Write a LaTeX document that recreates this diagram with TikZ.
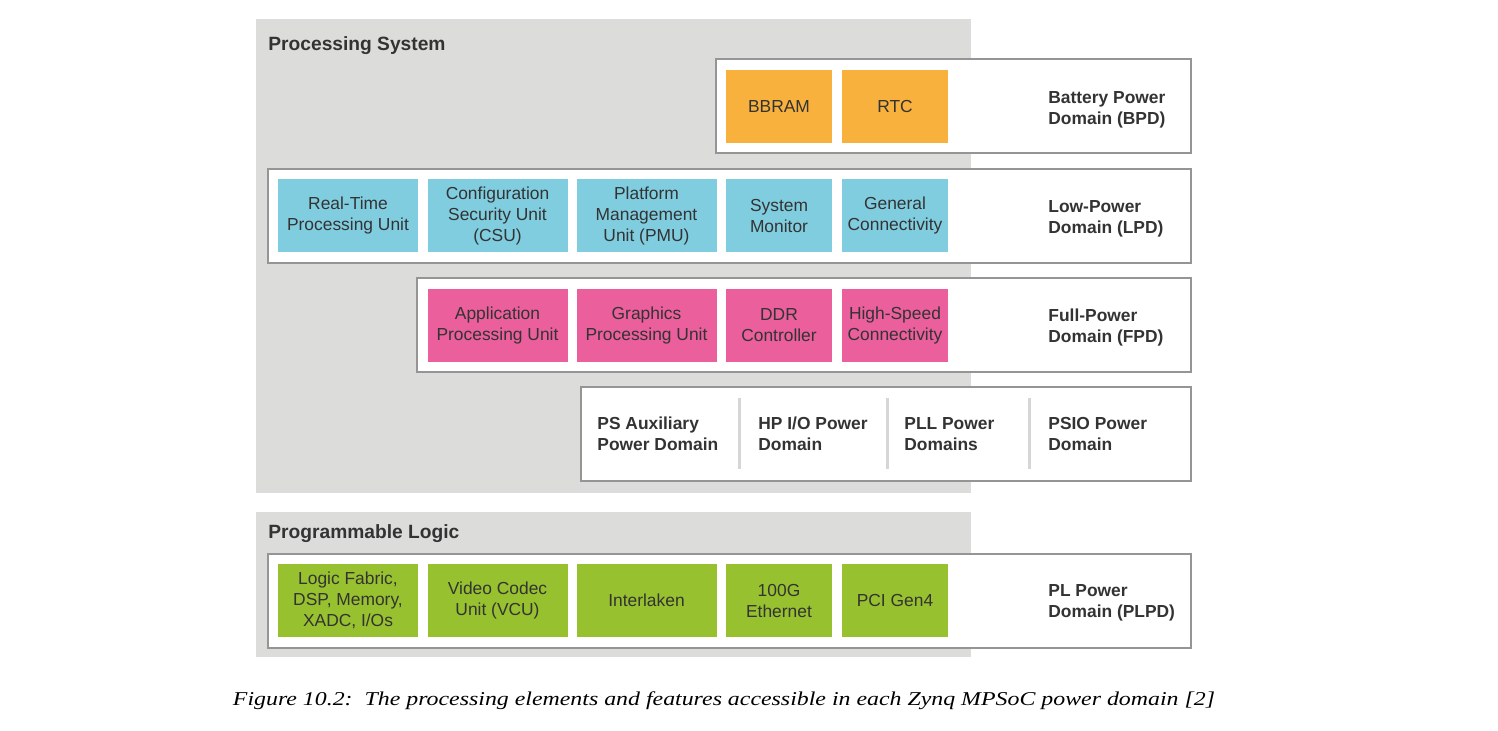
\documentclass[tikz,border=0pt]{standalone}
\usepackage{fontspec}
\setmainfont{Liberation Sans}
\newfontfamily\capfont{Liberation Serif}
\usetikzlibrary{fit}
\definecolor{panelgray}{HTML}{DCDCDA}
\definecolor{framegray}{HTML}{959595}
\definecolor{sepgray}{HTML}{D6D6D6}
\definecolor{txt}{HTML}{333333}
\definecolor{orangebox}{HTML}{F8B13D}
\definecolor{cyanbox}{HTML}{80CDE0}
\definecolor{pinkbox}{HTML}{EA5F9C}
\definecolor{greenbox}{HTML}{98C12F}
\tikzset{
  panel/.style={fill=panelgray, draw=none, inner sep=0pt},
  pdomain/.style={fill=white, draw=framegray, line width=1pt, inner sep=0pt},
  unit/.style={draw=none, inner sep=0pt, align=center, text=txt,
    minimum height=36.5pt, font=\fontsize{8.7}{10.5}\selectfont},
  wide/.style={minimum width=70pt},
  narrow/.style={minimum width=53pt},
  bpdunit/.style={unit, fill=orangebox},
  lpdunit/.style={unit, fill=cyanbox},
  fpdunit/.style={unit, fill=pinkbox},
  plunit/.style={unit, fill=greenbox},
  dlabel/.style={anchor=west, inner sep=0pt, align=left, text=txt,
    font=\fontsize{8.7}{10.5}\selectfont\bfseries},
  ptitle/.style={anchor=west, inner sep=0pt, text=txt,
    font=\fontsize{9.6}{11}\selectfont\bfseries},
  sepline/.style={draw=sepgray, line width=1.5pt}
}
\begin{document}
\begin{tikzpicture}[x=0.5pt, y=-0.5pt]
\useasboundingbox (0,0) rectangle (1498,730);
% panels
\node[panel, fit={(256,19) (971,493)}] (ps) {};
\node[panel, fit={(256,512) (971,657)}] (pl) {};
\node[ptitle] (pstitle) at (268,46) {Processing System};
\node[ptitle] (pltitle) at (268,534) {Programmable Logic};
% domains
\node[pdomain, fit={(716,59) (1191,153)}] (bpd) {};
\node[pdomain, fit={(268,169) (1191,263)}] (lpd) {};
\node[pdomain, fit={(417,278) (1191,372)}] (fpd) {};
\node[pdomain, fit={(581,387) (1191,481)}] (aux) {};
\node[pdomain, fit={(268,554) (1191,648)}] (plpd) {};
% BPD
\node[bpdunit, narrow] (bbram) at (779,106.5) {BBRAM};
\node[bpdunit, narrow] (rtc) at (895,106.5) {RTC};
\node[dlabel] (bpdl) at (1048,110) {Battery Power\\Domain (BPD)};
% LPD
\node[lpdunit, wide] (rpu) at (348,215.5) {Real-Time\\Processing Unit};
\node[lpdunit, wide] (csu) at (497.5,215.5) {Configuration\\Security Unit\\(CSU)};
\node[lpdunit, wide] (pmu) at (646.5,215.5) {Platform\\Management\\Unit (PMU)};
\node[lpdunit, narrow] (sysmon) at (779,215.5) {System\\Monitor};
\node[lpdunit, narrow] (gconn) at (895,215.5) {General\\Connectivity};
\node[dlabel] (lpdl) at (1048,219) {Low-Power\\Domain (LPD)};
% FPD
\node[fpdunit, wide] (apu) at (497.5,325) {Application\\Processing Unit};
\node[fpdunit, wide] (gpu) at (646.5,325) {Graphics\\Processing Unit};
\node[fpdunit, narrow] (ddr) at (779,325) {DDR\\Controller};
\node[fpdunit, narrow] (hsc) at (895,325) {High-Speed\\Connectivity};
\node[dlabel] (fpdl) at (1048,327) {Full-Power\\Domain (FPD)};
% Aux
\node[dlabel] (psaux) at (597,434) {PS Auxiliary\\Power Domain};
\node[dlabel] (hpio) at (758,434) {HP I/O Power\\Domain};
\node[dlabel] (pll) at (904,434) {PLL Power\\Domains};
\node[dlabel] (psio) at (1048,434) {PSIO Power\\Domain};
\draw[sepline] (739,398) -- (739,469);
\draw[sepline] (887,398) -- (887,469);
\draw[sepline] (1029,398) -- (1029,469);
% PL
\node[plunit, wide] (fabric) at (348,600.5) {Logic Fabric,\\DSP, Memory,\\XADC, I/Os};
\node[plunit, wide] (vcu) at (497.5,600.5) {Video Codec\\Unit (VCU)};
\node[plunit, wide] (ilkn) at (646.5,600.5) {Interlaken};
\node[plunit, narrow] (eth) at (779,600.5) {100G\\Ethernet};
\node[plunit, narrow] (pci) at (895,600.5) {PCI Gen4};
\node[dlabel] (plpdl) at (1048,603) {PL Power\\Domain (PLPD)};
% caption
\node[inner sep=0pt, text=black] (caption) at (724,701)
  {\resizebox{491pt}{\height}{\capfont\itshape\fontsize{9.8}{11}\selectfont Figure 10.2:\ \ The processing elements and features accessible in each Zynq MPSoC power domain [2]}};
\end{tikzpicture}
\end{document}
